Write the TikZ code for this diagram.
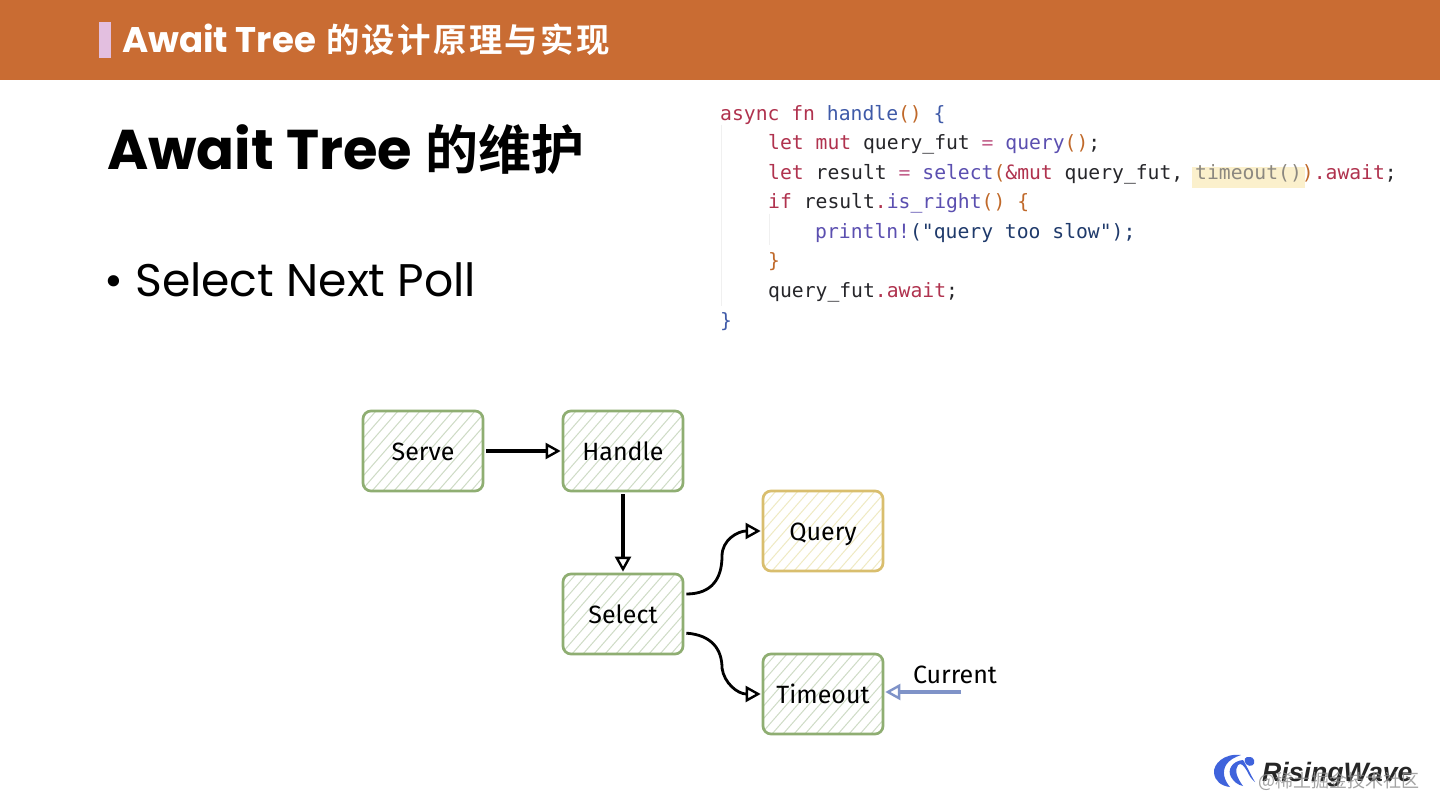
\documentclass[tikz,border=0pt]{standalone}
\usepackage{fontspec}
\usetikzlibrary{arrows.meta,calc}
\setmainfont{Poppins}
\setmonofont{DejaVu Sans Mono}
\newfontfamily\cjkb[BoldFont={Noto Sans CJK SC Bold}]{Noto Sans CJK SC}
\newfontfamily\cjkbar[LetterSpace=7]{Noto Sans CJK SC Bold}
\newfontfamily\cjkreg{Noto Sans CJK SC}
\newfontfamily\handf{Fira Sans}
\newfontfamily\logof{Liberation Sans}
\definecolor{barc}{HTML}{C96C33}
\definecolor{tagc}{HTML}{E3BFE0}
\definecolor{gbox}{HTML}{8FAE72}
\definecolor{ybox}{HTML}{D9BE6E}
\definecolor{ghatch}{HTML}{CEDBC5}
\definecolor{yhatch}{HTML}{EFEAC2}
\definecolor{bluearrow}{HTML}{7F93C8}
\definecolor{kw}{HTML}{B0324E}
\definecolor{fnc}{HTML}{5B4FB0}
\definecolor{hdl}{HTML}{3F5AA8}
\definecolor{par}{HTML}{C0692A}
\definecolor{opr}{HTML}{C2608A}
\definecolor{idn}{HTML}{26262A}
\definecolor{strc}{HTML}{1F3A6B}
\definecolor{gry}{HTML}{8C8880}
\definecolor{hl}{HTML}{FBF0CC}
\definecolor{logoblue}{HTML}{3F63DC}
\newcommand{\K}[1]{\textcolor{kw}{#1}}
\newcommand{\F}[1]{\textcolor{fnc}{#1}}
\newcommand{\HD}[1]{\textcolor{hdl}{#1}}
\newcommand{\PR}[1]{\textcolor{par}{#1}}
\newcommand{\OP}[1]{\textcolor{opr}{#1}}
\newcommand{\ID}[1]{\textcolor{idn}{#1}}
\tikzset{
  sketch/.style n args={2}{draw=#1, line width=2.7pt, rounded corners=8pt,
    minimum width=120pt, minimum height=80pt, inner sep=0pt,
    text height=19pt, text depth=0pt,
    font=\handf\fontsize{25}{30}\selectfont, text=black,
    path picture={
      \foreach \k in {-90,-79,...,130}{
        \draw[#2, line width=1pt] ([xshift=\k pt]path picture bounding box.south west) -- +(70pt,80pt);
      }
    }},
  codeline/.style={anchor=base west, inner sep=0pt, font=\ttfamily\fontsize{19.7}{24}\selectfont},
  link/.style={draw=black, line width=2.8pt, -{Triangle[open,length=15pt,width=16pt,line width=2.4pt]}, shorten <=2pt, shorten >=1pt},
  straightlink/.style={link, line width=3.8pt},
}
\begin{document}
\begin{tikzpicture}[x=1pt,y=-1pt]
\useasboundingbox (0,0) rectangle (1440,810);
\fill[white] (0,0) rectangle (1440,810);
% header
\fill[barc] (0,0) rectangle (1440,80);
\fill[tagc] (99,22) rectangle (111,58);
\node[anchor=base west, inner sep=0pt, text=white] (toptitle) at (122,53)
  {\fontsize{35.6}{38}\selectfont\bfseries Await Tree};
\node[anchor=base west, inner sep=0pt, text=white] (topcjk) at (326,53)
  {\cjkbar\fontsize{33.4}{38}\selectfont 的设计原理与实现};
% heading
\node[anchor=base west, inner sep=0pt] (head) at (107,170)
  {\fontsize{56}{60}\selectfont\bfseries Await Tree};
\node[anchor=base west, inner sep=0pt] (headcjk) at (425,170)
  {\cjkb\fontsize{53}{60}\selectfont\bfseries 的维护};
% bullet
\node[anchor=base west, inner sep=0pt] (bullet) at (104,297)
  {\fontsize{45.7}{50}\selectfont • Select Next Poll};
% code
\fill[hl] (1192,167.5) rectangle (1305,188.5);
\draw[black!6, line width=1pt] (721,125) -- (721,306);
\draw[black!6, line width=1pt] (769,214) -- (769,245);
\node[codeline] (c1) at (720,120.5) {\K{async fn} \HD{handle}\PR{()} \HD{\{}};
\node[codeline] (c2) at (768,150) {\K{let mut} \ID{query\_fut} \OP{=} \F{query}\PR{()}\ID{;}};
\node[codeline] (c3) at (768,179.5) {\K{let} \ID{result} \OP{=} \F{select}\PR{(}\K{\&mut} \ID{query\_fut,} \textcolor{gry}{timeout()}\PR{)}\K{.await}\ID{;}};
\node[codeline] (c4) at (768,209) {\K{if} \ID{result}\K{.}\F{is\_right}\PR{()} \PR{\{}};
\node[codeline] (c5) at (815,238.5) {\F{println!}\textcolor{strc}{("query too slow");}};
\node[codeline] (c6) at (768,268) {\PR{\}}};
\node[codeline] (c7) at (768,297.5) {\ID{query\_fut}\K{.await}\ID{;}};
\node[codeline] (c8) at (720,327) {\HD{\}}};
% boxes
\node[sketch={gbox}{ghatch}] (serve) at (423,451) {Serve};
\node[sketch={gbox}{ghatch}] (handle) at (623,451) {Handle};
\node[sketch={gbox}{ghatch}] (select) at (623,614) {Select};
\node[sketch={ybox}{yhatch}] (query) at (823,531) {Query};
\node[sketch={gbox}{ghatch}] (timeout) at (823,694) {Timeout};
\node[anchor=base, inner sep=0pt, font=\handf\fontsize{25}{30}\selectfont] (current) at (955,683) {Current};
\coordinate (curfree) at (963,692);
\coordinate (qmid) at (722,556);
\coordinate (tmid) at (722,668);
% connectors
\draw[straightlink] (serve) -- (handle);
\draw[straightlink] (handle) -- (select);
\draw[link] ([yshift=20pt]select.east) .. controls +(28,0) and +(0,22) .. (qmid)
   .. controls +(0,-16) and +(-24,0) .. (query.west);
\draw[link] ([yshift=-19pt]select.east) .. controls +(28,2) and +(0,-18) .. (tmid)
   .. controls +(2,15) and +(-24,0) .. (timeout.west);
\draw[straightlink, draw=bluearrow] (curfree) -- (curfree -| timeout.east);
% logo
\fill[logoblue] (1241,755) .. controls (1224,753) and (1213,764) .. (1214,773)
   .. controls (1215,781) and (1221,786) .. (1230,787)
   .. controls (1224,780) and (1222,772) .. (1226,765)
   .. controls (1229,760) and (1235,757) .. (1241,755) -- cycle;
\fill[logoblue] (1243,760) .. controls (1232,761) and (1227,770) .. (1231,777)
   .. controls (1234,782) and (1238,785) .. (1243,786)
   .. controls (1237,778) and (1234,770) .. (1238,765)
   .. controls (1241,762) and (1244,766) .. (1247,771)
   .. controls (1249,775) and (1251,779) .. (1255,782)
   .. controls (1250,774) and (1248,768) .. (1243,760) -- cycle;
\fill[logoblue] (1250,757) .. controls (1245,756) and (1243,760) .. (1246,764)
   .. controls (1250,768) and (1256,765) .. (1254,760)
   .. controls (1253,758) and (1252,757) .. (1250,757) -- cycle;
\node[anchor=base west, inner sep=0pt, text=black!85] (logotext) at (1262,781)
  {\logof\fontsize{26.6}{30}\selectfont\bfseries\itshape RisingWave};
\node[anchor=base west, inner sep=0pt, text=black!45, opacity=.8] (mark) at (1258,787)
  {\cjkreg\fontsize{18}{22}\selectfont @稀土掘金技术社区};
\end{tikzpicture}
\end{document}
